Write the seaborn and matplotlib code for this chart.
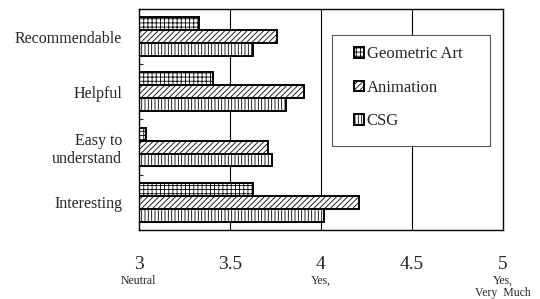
import pandas as pd
import numpy as np
import matplotlib
matplotlib.use('Agg')
import matplotlib.pyplot as plt
import seaborn as sns

categories = ['Recommendable', 'Helpful', 'Easy to\nunderstand', 'Interesting']
methods = ['Geometric Art', 'Animation', 'CSG']
geometric_art = [3.33, 3.41, 3.04, 3.63]
animation = [3.76, 3.91, 3.71, 4.21]
csg = [3.63, 3.81, 3.73, 4.02]
x_ticks = [3, 3.5, 4, 4.5, 5]
x_notes = {3: 'Neutral', 4: 'Yes,', 5: 'Yes,\nVery  Much'}

df = pd.DataFrame({
    'Category': categories * 3,
    'Method': [m for m in methods for _ in categories],
    'Score': geometric_art + animation + csg,
})

sns.set_style('white')
plt.rcParams['font.family'] = ['Liberation Serif', 'DejaVu Serif']
plt.rcParams['hatch.linewidth'] = 0.6
plt.rcParams['hatch.color'] = 'black'

fig = plt.figure(figsize=(5.4, 2.99), dpi=100)
ax = fig.add_axes([0.257, 0.231, 0.674, 0.739])

sns.barplot(data=df, y='Category', x='Score', hue='Method', order=categories,
            hue_order=methods, orient='h', width=0.7,
            palette=['white'] * 3, edgecolor='black', linewidth=1.4, ax=ax)

hatches = ['++++', '//////', '|||||']
for cont, h in zip(ax.containers, hatches):
    for bar in cont:
        bar.set_hatch(h)
        bar.set_edgecolor('black')

ax.set_xlim(3, 5)
ax.set_ylim(3.5, -0.5)
ax.set_xticks(x_ticks)
ax.set_xticklabels([f'{t:g}' for t in x_ticks], fontsize=14)
ax.tick_params(axis='x', length=0, pad=19)
ax.tick_params(axis='y', length=0, pad=12, labelsize=11.5)
ax.set_yticks([0.5, 1.5, 2.5], minor=True)
ax.tick_params(axis='y', which='minor', direction='in', length=3, width=0.8, left=True)
ax.set_xlabel('')
ax.set_ylabel('')
for t in [3.5, 4, 4.5]:
    ax.axvline(t, color='black', linewidth=0.8, zorder=0)
for s in ax.spines.values():
    s.set_color('black')
    s.set_linewidth(1.0)

trans = matplotlib.transforms.blended_transform_factory(ax.transData, ax.transAxes)
for t, note in x_notes.items():
    ax.text(t, -0.205, note, transform=trans, ha='center', va='top', fontsize=8.5,
            linespacing=0.95)

# legend box drawn separately so the inner padding can match
box = plt.Rectangle((0.530, 0.380), 0.434, 0.502, transform=ax.transAxes,
                    facecolor='white', edgecolor='#555555', linewidth=0.8, zorder=4)
ax.add_patch(box)
leg = ax.legend(loc='upper left', bbox_to_anchor=(0.590, 0.831), frameon=False,
                fontsize=12, handlelength=0.6, handleheight=0.6,
                handletextpad=0.2, labelspacing=1.05, borderpad=0,
                borderaxespad=0)
leg.set_zorder(5)
for p, h in zip(leg.get_patches(), hatches):
    p.set_hatch(h)
    p.set_edgecolor('black')
    p.set_linewidth(1.4)

plt.savefig('out.png', dpi=100)
plt.close()
